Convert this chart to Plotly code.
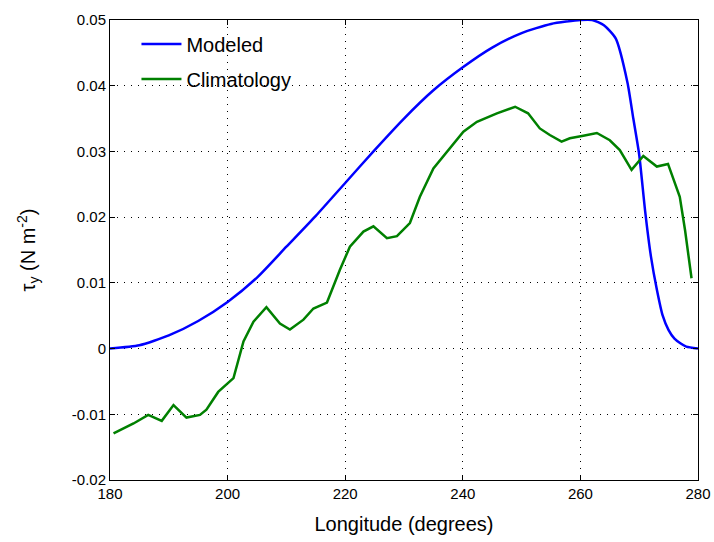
import plotly.graph_objects as go

# Modeled wind stress (blue)
mod_lon = [180, 185, 190, 195, 200, 205, 210, 215, 220, 225, 230, 235, 240, 245, 250, 255,
           260, 262, 264, 266, 268, 269, 270, 271, 272, 273, 274, 275, 276, 277, 278, 280]
mod_tau = [0.0000, 0.0005, 0.0020, 0.0042, 0.0071, 0.0108, 0.0155, 0.0202, 0.0252, 0.0302,
           0.0350, 0.0393, 0.0428, 0.0458, 0.0480, 0.0494, 0.0500, 0.0500, 0.0492, 0.0472,
           0.0405, 0.0350, 0.0295, 0.0210, 0.0140, 0.0090, 0.0050, 0.0028, 0.0015, 0.0008,
           0.0003, 0.0000]

# Climatology (green)
clim_lon = [180.6, 184.0, 186.5, 188.8, 190.8, 193.0, 195.3, 196.4, 198.4, 201.0, 202.7, 204.4,
            206.6, 208.9, 210.6, 212.9, 214.6, 216.9, 219.1, 220.8, 223.1, 224.8, 227.1, 228.8,
            231.0, 232.7, 235.0, 237.8, 240.1, 242.4, 245.8, 248.9, 251.1, 253.1, 254.8, 256.8,
            258.2, 260.5, 262.8, 265.0, 266.7, 268.7, 270.7, 273.0, 274.9, 276.9, 277.8, 278.9]
clim_tau = [-0.0129, -0.0114, -0.0101, -0.0110, -0.0086, -0.0105, -0.0101, -0.0093, -0.0066,
            -0.0045, 0.0011, 0.0041, 0.0063, 0.0038, 0.0029, 0.0044, 0.0061, 0.0070, 0.0120,
            0.0155, 0.0178, 0.0186, 0.0168, 0.0171, 0.0191, 0.0231, 0.0274, 0.0305, 0.0330,
            0.0345, 0.0358, 0.0368, 0.0358, 0.0335, 0.0325, 0.0315, 0.0320, 0.0324, 0.0328,
            0.0317, 0.0302, 0.0272, 0.0293, 0.0277, 0.0281, 0.0231, 0.0180, 0.0107]

x_ticks = [180, 200, 220, 240, 260, 280]
y_ticks = [-0.02, -0.01, 0, 0.01, 0.02, 0.03, 0.04, 0.05]
y_ticklabels = ["-0.02", "-0.01", "0", "0.01", "0.02", "0.03", "0.04", "0.05"]

FONT = "Liberation Sans, Arial, sans-serif"

fig = go.Figure()
fig.add_trace(go.Scatter(x=mod_lon, y=mod_tau, mode="lines", name="Modeled", legendgroup="a",
                         line=dict(color="#0000FF", width=2.5, shape="spline", smoothing=0.6)))
fig.add_trace(go.Scatter(x=clim_lon, y=clim_tau, mode="lines", name="Climatology", legendgroup="b",
                         line=dict(color="#008000", width=2.5)))

axis_common = dict(
    showline=True, linecolor="black", linewidth=1, mirror="ticks",
    ticks="inside", ticklen=5, tickcolor="black",
    showgrid=True, gridcolor="black", gridwidth=1, griddash="1px,6px",
    zeroline=False,
    tickfont=dict(family=FONT, size=15, color="black"),
)

fig.update_xaxes(range=[180, 280], tickvals=x_ticks, automargin=False,
                 title=dict(text="Longitude (degrees)", font=dict(family=FONT, size=20, color="black")),
                 **axis_common)
fig.update_yaxes(range=[-0.02, 0.05], tickvals=y_ticks, ticktext=y_ticklabels, automargin=True,
                 title=dict(text="τ<sub>y</sub> (N m<sup>-2</sup>)",
                            font=dict(family=FONT, size=20, color="black"), standoff=30),
                 **axis_common)

fig.update_layout(
    width=714, height=542,
    margin=dict(l=110, r=16, t=20, b=62),
    plot_bgcolor="white", paper_bgcolor="white",
    legend=dict(x=0.045, y=0.99, xanchor="left", yanchor="top",
                bgcolor="rgba(255,255,255,0)", borderwidth=0,
                font=dict(family=FONT, size=20, color="black"),
                itemwidth=40, tracegroupgap=6),
    showlegend=True,
)

fig.write_html("out.html")
